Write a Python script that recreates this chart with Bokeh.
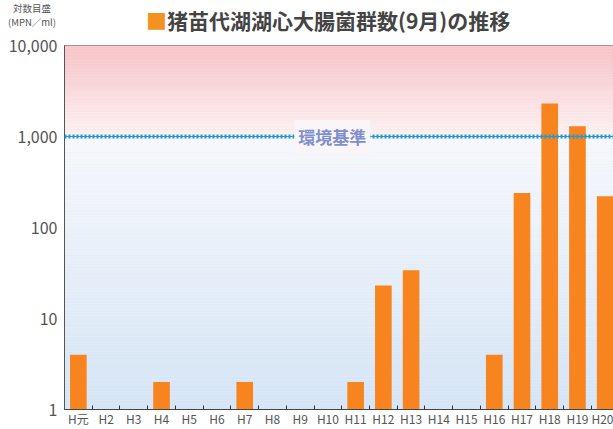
import numpy as np
from bokeh.plotting import figure
from bokeh.layouts import column
from bokeh.models import (ColumnDataSource, Range1d, FixedTicker, NumeralTickFormatter,
                          Span, Label, Div)
from bokeh.embed import file_html
from bokeh.resources import INLINE

# ---- data ----
years = ["H元", "H2", "H3", "H4", "H5", "H6", "H7", "H8", "H9", "H10",
         "H11", "H12", "H13", "H14", "H15", "H16", "H17", "H18", "H19", "H20"]
nan = float("nan")
coliform = [4, nan, nan, 2, nan, nan, 2, nan, nan, nan,
            2, 23, 34, nan, nan, 4, 240, 2300, 1300, 220]
standard_value = 1000
y_ticks = [1, 10, 100, 1000, 10000]
title_text = "猪苗代湖湖心大腸菌群数(9月)の推移"
unit_line1 = "対数目盛"
unit_line2 = "(MPN／ml)"
standard_text = "環境基準"

xpos = list(range(len(years)))
src = ColumnDataSource(dict(x=xpos, top=coliform, label=years))

FONT = "'Liberation Sans Narrow', 'Noto Sans CJK JP', sans-serif"
CJK = "'Noto Sans CJK JP'"
X0, X1 = -0.5, 19.3
HEADER_H = 32

p = figure(width=613, height=429 - HEADER_H, output_backend="svg", toolbar_location=None,
           y_axis_type="log", x_range=Range1d(X0, X1), y_range=Range1d(1, 10000),
           min_border_left=64, min_border_top=45 - HEADER_H, min_border_right=0,
           min_border_bottom=0)
p.margin = 0
p.background_fill_color = "white"
p.border_fill_color = "white"
p.outline_line_color = "#666666"
p.xgrid.visible = False
p.ygrid.visible = False

# gradient background: pink (top) -> white (~1000) -> light blue (bottom)
edges = np.logspace(0, 4, 121)
def band_color(t):
    # t: 0 bottom .. 1 top
    if t < 0.745:
        c0 = np.array([0xd5, 0xe5, 0xf6]); c1 = np.array([0xf7, 0xf8, 0xfc])
        f = t / 0.745
    else:
        c0 = np.array([0xfd, 0xf3, 0xf4]); c1 = np.array([0xf8, 0xc8, 0xcc])
        f = min(1.0, (t - 0.745) / 0.23)
    c = (c0 + (c1 - c0) * f).astype(int)
    return "#%02x%02x%02x" % tuple(c)
mids = (np.log10(edges[:-1]) + np.log10(edges[1:])) / 2 / 4
bg = ColumnDataSource(dict(bottom=edges[:-1], top=edges[1:],
                           color=[band_color(t) for t in mids]))
p.quad(left=X0, right=X1, bottom="bottom", top="top", fill_color="color",
       line_color="color", line_width=0.5, source=bg)

# standard line
p.add_layout(Span(location=standard_value, dimension="width", line_color="#1b9bd7",
                  line_width=1))
p.add_layout(Span(location=standard_value, dimension="width", line_color="#1b9bd7",
                  line_width=4, line_dash="2 2"))
p.add_layout(Label(x=9.16, y=standard_value, text=standard_text, text_align="center",
                   text_baseline="middle", text_font_size="17px", text_font_style="bold",
                   text_color="#7f8fcf", text_font=CJK,
                   background_fill_color="#faf5f7", padding=4))

# bars
p.vbar(x="x", top="top", bottom=1, width=0.6, fill_color="#f7841f", line_color=None,
       source=src)

# x axis
xa = p.xaxis[0]
centers = [float(i) for i in xpos]
bounds = [i + 0.5 for i in xpos]
xa.ticker = FixedTicker(ticks=centers, minor_ticks=bounds)
xa.major_label_overrides = {i: years[i] for i in xpos}
xa.major_tick_in = 0
xa.major_tick_out = 0
xa.minor_tick_in = 4
xa.minor_tick_out = 0
xa.minor_tick_line_color = "#333333"
xa.axis_line_color = "#444444"
xa.major_label_text_font = FONT
xa.major_label_text_font_size = "12px"
xa.major_label_text_color = "#555555"
xa.major_label_standoff = 0

# y axis
ya = p.yaxis[0]
ya.ticker = FixedTicker(ticks=y_ticks, minor_ticks=[])
ya.formatter = NumeralTickFormatter(format="0,0")
ya.major_tick_in = 0
ya.major_tick_out = 0
ya.minor_tick_in = 0
ya.minor_tick_out = 0
ya.axis_line_color = "#555555"
ya.major_label_text_font = FONT
ya.major_label_text_font_size = "16px"
ya.major_label_text_color = "#555555"
ya.major_label_standoff = 7

# header: unit label and title (real text, HTML)
header_html = (
    f'<div style="position:relative;width:613px;height:{HEADER_H}px;font-family:{CJK};">'
    f'<div style="position:absolute;left:2px;top:1px;width:60px;text-align:center;'
    f'font-size:9.5px;line-height:14px;color:#555555;white-space:nowrap;">'
    f'<div>{unit_line1}</div><div>{unit_line2}</div></div>'
    f'<div style="position:absolute;left:146px;top:9px;font-size:21px;line-height:22px;'
    f'font-weight:bold;color:#444444;white-space:nowrap;">'
    f'<span style="color:#f39221;">■</span>{title_text}</div>'
    f'</div>'
)
header = Div(text=header_html, width=613, height=HEADER_H, margin=0)

layout = column(header, p, spacing=0, margin=0)
open("out.html", "w").write(file_html(layout, INLINE))
